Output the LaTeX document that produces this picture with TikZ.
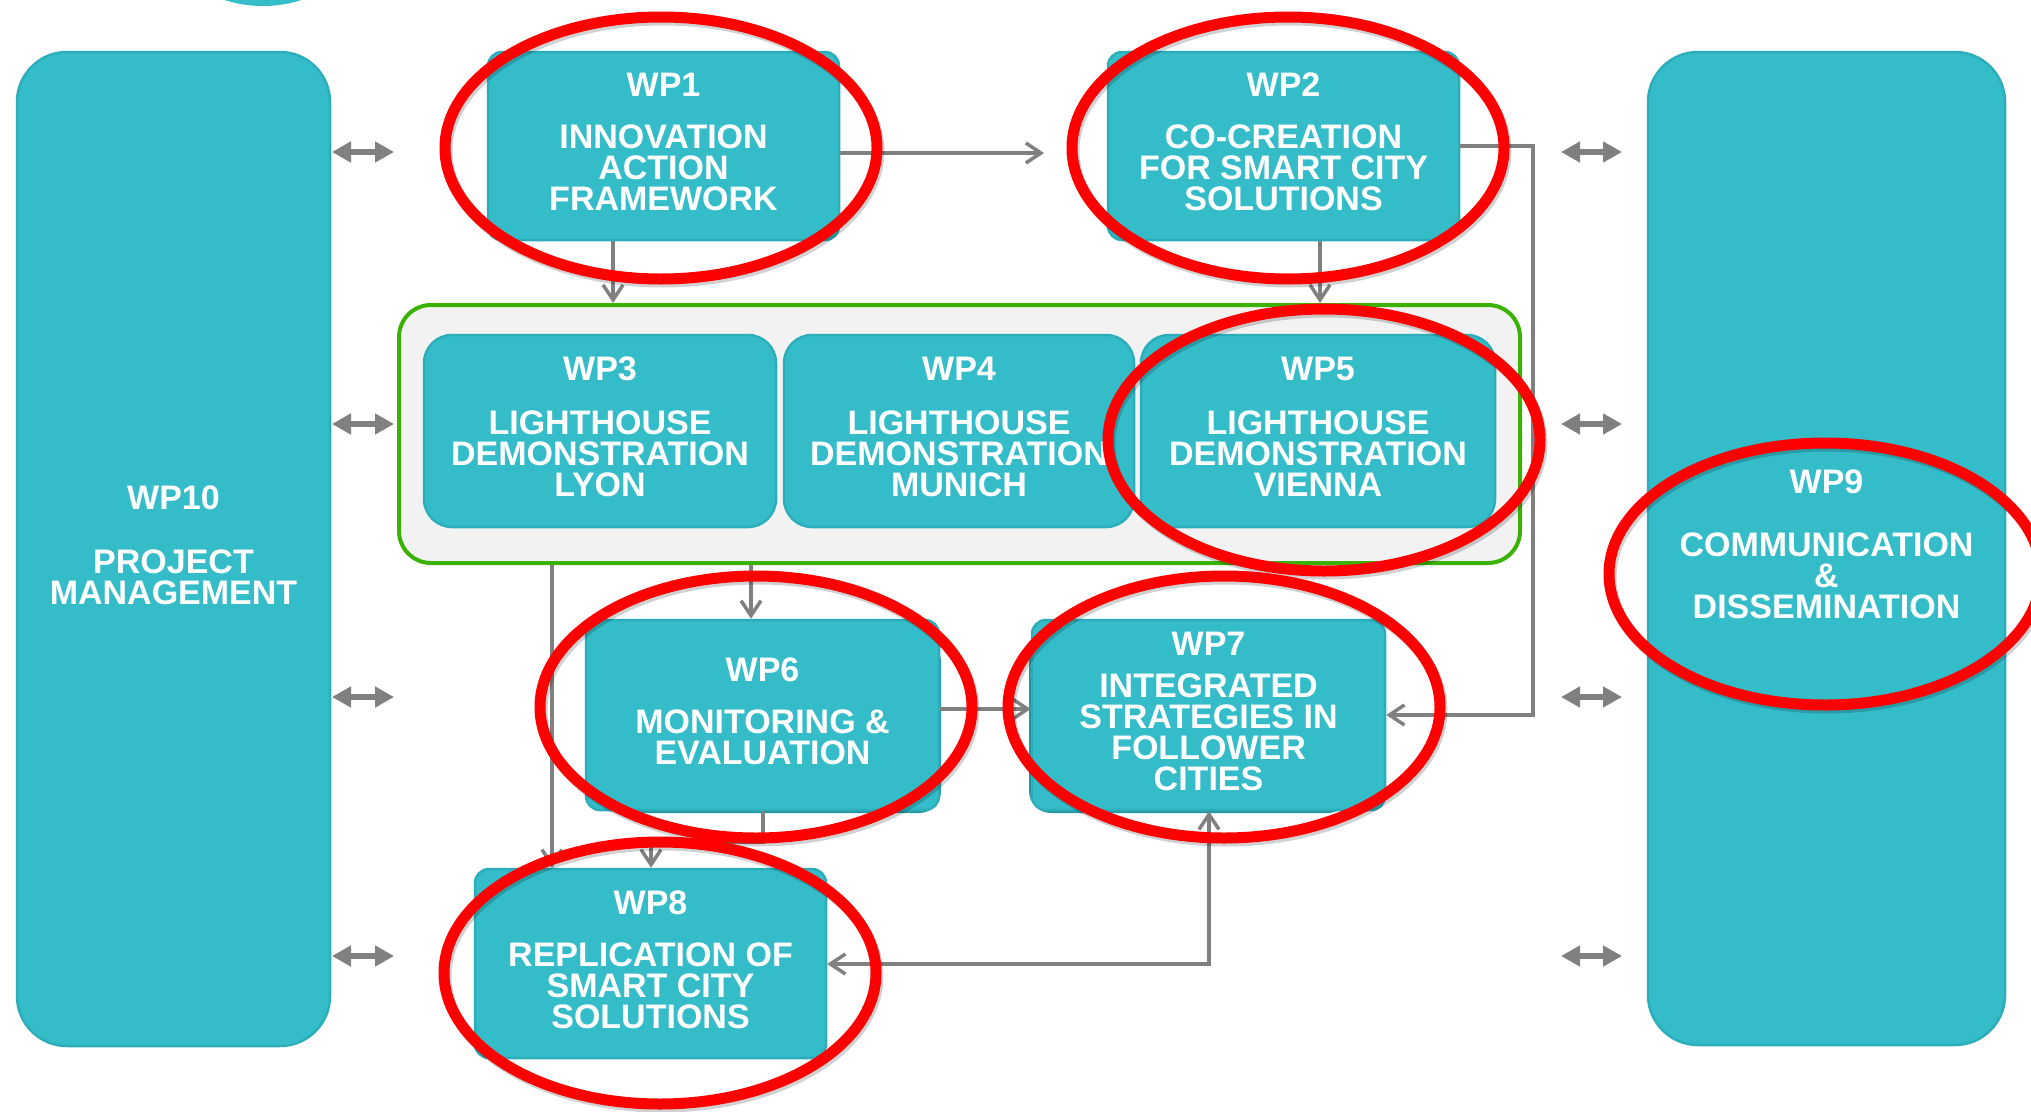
\documentclass[tikz,border=0pt]{standalone}
\usepackage{fontspec}
\setmainfont{Liberation Sans}
\usetikzlibrary{arrows.meta,shapes.geometric,calc}
\definecolor{tealbox}{RGB}{52,189,201}
\definecolor{tealedge}{RGB}{44,174,186}
\definecolor{tealdark}{RGB}{36,150,160}
\definecolor{grpgreen}{RGB}{60,178,0}
\definecolor{grpfill}{RGB}{242,242,242}
\definecolor{arrowgray}{RGB}{128,128,128}
\definecolor{hlred}{RGB}{255,0,0}
\begin{document}
\begin{tikzpicture}[x=1pt,y=-1pt,
  wpbox/.style={draw=tealedge, line width=2.5pt, fill=tealbox, text=white, align=center,
    inner sep=0pt, font=\fontsize{34}{31}\selectfont\bfseries, rounded corners=14pt,
    minimum width=351pt, minimum height=188pt, text depth=8pt},
  bigbox/.style={wpbox, rounded corners=50pt},
  lhbox/.style={wpbox, rounded corners=28pt, minimum height=192pt},
  grp/.style={draw=grpgreen, line width=4pt, fill=grpfill, rounded corners=32pt,
    minimum width=1121pt, minimum height=258pt, inner sep=0pt},
  conn/.style={draw=arrowgray, line width=3.5pt,
    -{Straight Barb[length=15pt,width=20pt,line width=3.5pt]}},
  conntwo/.style={draw=arrowgray, line width=3.5pt,
    {Straight Barb[length=15pt,width=20pt,line width=3.5pt]}-{Straight Barb[length=15pt,width=20pt,line width=3.5pt]}},
  fat/.style={draw=arrowgray, line width=6pt,
    {Triangle[length=19pt,width=20pt]}-{Triangle[length=19pt,width=20pt]}},
  hl/.style={draw=hlred, line width=11pt, ellipse, inner sep=0pt,
    minimum width=432pt, minimum height=262pt,
    preaction={draw=black, draw opacity=0.18, line width=11pt, transform canvas={shift={(2pt,-3pt)}}}}
]
\path[use as bounding box] (0,0) rectangle (2031,1111);
\clip (0,0) rectangle (2031,1111);
\fill[white] (0,0) rectangle (2031,1111);

% partial circle at top
\node[circle, fill=tealbox, minimum size=252pt, inner sep=0pt] (topc) at (263,-120) {};

% side boxes
\node[bigbox, minimum width=313pt, minimum height=994pt] (wp10) at (173.5,549)
  {WP10\\[33pt]PROJECT\\MANAGEMENT};
\node[bigbox, minimum width=357pt, minimum height=993pt] (wp9) at (1826.5,548.5)
  {WP9\\[32pt]COMMUNICATION\\\&\\DISSEMINATION};

% top boxes
\node[wpbox] (wp1) at (663.5,146) {WP1\\[21pt]INNOVATION\\ACTION\\FRAMEWORK};
\node[wpbox] (wp2) at (1283.5,146) {WP2\\[21pt]CO-CREATION\\FOR SMART CITY\\SOLUTIONS};

% lighthouse group
\node[grp] (grp) at (959.5,434) {};
\node[lhbox, minimum width=352pt] (wp3) at (600,431) {WP3\\[23pt]LIGHTHOUSE\\DEMONSTRATION\\LYON};
\node[lhbox, minimum width=350pt] (wp4) at (959,431) {WP4\\[23pt]LIGHTHOUSE\\DEMONSTRATION\\MUNICH};
\node[lhbox, minimum width=354pt] (wp5) at (1318,431) {WP5\\[23pt]LIGHTHOUSE\\DEMONSTRATION\\VIENNA};

% lower boxes
\fill[tealdark, rounded corners=22pt] (620,640) rectangle (941,813);
\fill[tealdark, rounded corners=22pt] (1029,640) rectangle (1350,813);
\node[wpbox, minimum width=353pt, minimum height=190pt] (wp6) at (762.5,715) {WP6\\[21pt]MONITORING \&\\EVALUATION};
\node[wpbox, minimum width=353pt, minimum height=190pt] (wp7) at (1208.5,715) {WP7\\[11pt]INTEGRATED\\STRATEGIES IN\\FOLLOWER\\CITIES};
\node[wpbox, minimum height=189pt] (wp8) at (650.5,963.5) {WP8\\[21pt]REPLICATION OF\\SMART CITY\\SOLUTIONS};

% connectors
\coordinate (a12) at (1044,153);
\draw[conn] (wp1.east |- a12) -- (a12);
\coordinate (x613) at (613,0);
\draw[conn] (x613 |- wp1.south) -- (x613 |- grp.north);
\coordinate (x1320) at (1320,0);
\draw[conn] (x1320 |- wp2.south) -- (x1320 |- grp.north);
\coordinate (r2) at (1533,146);
\coordinate (r7) at (1533,715);
\draw[conn] (wp2.east) -- (r2) -- (r7) -- (wp7.east);
\coordinate (x751) at (751,0);
\draw[conn] (x751 |- grp.south) -- (x751 |- wp6.north);
\coordinate (x552) at (552,0);
\draw[conn] (x552 |- grp.south) -- (x552 |- wp8.north);
\coordinate (y709) at (0,709);
\draw[conn] (wp6.east |- y709) -- (wp7.west |- y709);
\coordinate (b6) at (763,842);
\coordinate (b8) at (651,842);
\draw[conn] (b6 |- wp6.south) -- (b6) -- (b8) -- (b8 |- wp8.north);
\coordinate (c78) at (1209,964);
\draw[conntwo] (wp8.east |- c78) -- (c78) -- (c78 |- wp7.south);

% double arrows to side boxes
\foreach \yy [count=\i] in {152,424,697,956} {
  \coordinate (la\i) at (332,\yy);
  \coordinate (ra\i) at (1561,\yy);
  \draw[fat] (la\i) -- ++(62,0);
  \draw[fat] (ra\i) -- ++(61,0);
}

% red highlight ellipses
\node[hl] (h1) at (661,148) {};
\node[hl] (h2) at (1288,148) {};
\node[hl] (h5) at (1324,440) {};
\node[hl] (h6) at (756,707) {};
\node[hl] (h7) at (1224,707) {};
\node[hl] (h8) at (660,973) {};
\node[hl] (h9) at (1825,574) {};
\end{tikzpicture}
\end{document}
